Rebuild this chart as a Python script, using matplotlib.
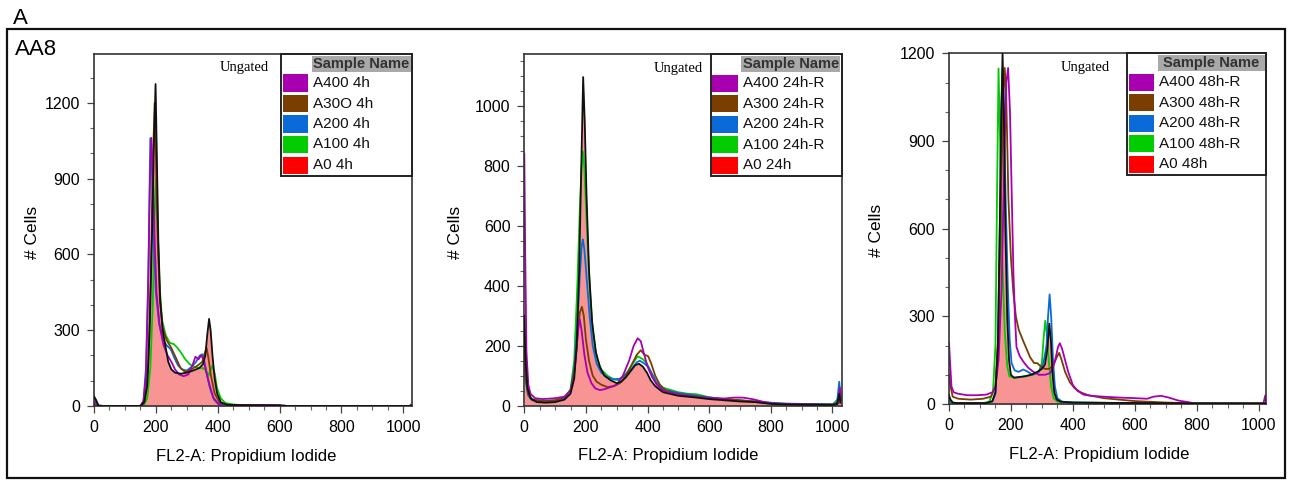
import matplotlib

matplotlib.use("Agg")
import matplotlib.pyplot as plt  # noqa: E402
from matplotlib.patches import Rectangle  # noqa: E402
from matplotlib.ticker import MultipleLocator  # noqa: E402

plt.rcParams["font.family"] = ["Liberation Sans", "DejaVu Sans"]

# ---- data: (channel, # cells) ----
a0_4h = [(0, 35), (6, 25), (14, 3), (30, 0), (150, 0), (162, 15), (172, 80), (180, 300), (188, 700),
         (194, 1050), (199, 1275), (203, 1000), (208, 650), (214, 420), (222, 300), (232, 230),
         (240, 175), (250, 145), (262, 132), (280, 128), (300, 132), (320, 140), (340, 150),
         (352, 165), (360, 200), (366, 280), (372, 345), (377, 300), (383, 200), (390, 110),
         (398, 50), (410, 15), (430, 5), (500, 3), (615, 2), (625, 0), (1024, 0)]
a400_4h = [(0, 20), (8, 10), (15, 0), (150, 0), (160, 20), (168, 120), (175, 450), (181, 900),
           (185, 1062), (190, 950), (195, 700), (202, 450), (212, 320), (225, 240), (238, 200),
           (250, 175), (262, 145), (275, 125), (290, 118), (305, 125), (318, 160), (328, 195),
           (338, 185), (346, 200), (354, 185), (362, 140), (372, 90), (385, 35), (400, 10),
           (430, 4), (600, 3), (610, 0), (1020, 0), (1024, 5)]
a300_4h = [(0, 10), (10, 0), (155, 0), (165, 20), (175, 150), (183, 500), (190, 950), (196, 1200),
           (200, 1000), (206, 650), (213, 420), (222, 310), (235, 260), (250, 230), (265, 190),
           (280, 150), (295, 135), (315, 145), (335, 160), (350, 175), (358, 210), (364, 230),
           (370, 190), (378, 120), (390, 50), (405, 15), (430, 4), (600, 2), (610, 0), (1024, 0)]
a200_4h = [(0, 40), (6, 25), (14, 0), (150, 0), (160, 20), (168, 150), (176, 550), (182, 1060),
           (187, 950), (193, 650), (200, 450), (210, 330), (222, 265), (235, 240), (248, 225),
           (260, 190), (272, 160), (285, 145), (300, 140), (315, 155), (330, 175), (342, 200),
           (350, 205), (356, 180), (364, 130), (375, 70), (388, 25), (405, 5), (600, 2), (610, 0),
           (1024, 0)]
a100_4h = [(0, 10), (10, 0), (160, 0), (172, 30), (182, 150), (190, 400), (196, 750), (201, 900),
           (206, 700), (212, 480), (220, 340), (232, 280), (245, 250), (258, 245), (270, 230),
           (282, 210), (295, 185), (310, 165), (325, 155), (340, 150), (352, 150), (362, 140),
           (370, 120), (378, 145), (383, 160), (390, 130), (398, 70), (410, 30), (425, 12),
           (450, 6), (470, 4), (600, 2), (610, 0), (1024, 0)]

a0_24h = [(0, 300), (4, 150), (10, 60), (20, 25), (40, 12), (70, 10), (100, 12), (130, 20), (150, 40),
          (162, 90), (170, 200), (178, 450), (185, 800), (191, 1096), (196, 950), (202, 700),
          (210, 450), (220, 280), (232, 180), (245, 130), (260, 100), (280, 85), (300, 75),
          (315, 80), (330, 95), (345, 115), (360, 135), (372, 140), (385, 130), (398, 110),
          (410, 85), (425, 65), (450, 45), (500, 33), (550, 28), (600, 22), (650, 18), (700, 14),
          (750, 12), (800, 6), (850, 4), (1000, 3), (1015, 5), (1022, 40), (1026, 10)]
a400_24h = [(0, 840), (3, 500), (7, 180), (13, 70), (20, 40), (35, 25), (60, 22), (100, 25),
            (130, 30), (150, 50), (160, 90), (168, 170), (175, 260), (180, 288), (186, 250),
            (195, 170), (205, 110), (218, 75), (230, 58), (245, 52), (260, 55), (280, 62),
            (300, 70), (320, 100), (340, 150), (355, 200), (368, 225), (378, 215), (388, 175),
            (400, 130), (415, 95), (430, 70), (450, 50), (500, 38), (550, 30), (600, 25),
            (650, 24), (680, 27), (710, 27), (740, 22), (780, 12), (820, 6), (900, 4), (1000, 3),
            (1018, 10), (1024, 60), (1028, 20)]
a300_24h = [(0, 200), (5, 90), (12, 40), (25, 20), (60, 15), (100, 18), (130, 28), (150, 50),
            (162, 110), (172, 220), (180, 310), (187, 330), (193, 300), (200, 220), (210, 150),
            (222, 100), (235, 80), (250, 70), (270, 62), (290, 65), (310, 75), (330, 100),
            (350, 140), (365, 170), (378, 185), (390, 170), (402, 165), (412, 140), (425, 100),
            (440, 70), (460, 50), (500, 38), (550, 32), (600, 25), (650, 22), (700, 18),
            (750, 14), (800, 8), (900, 4), (1000, 3), (1020, 8), (1024, 40)]
a200_24h = [(0, 150), (5, 80), (12, 35), (25, 18), (60, 14), (100, 16), (130, 25), (150, 50),
            (162, 120), (172, 270), (180, 430), (186, 530), (190, 555), (195, 520), (202, 430),
            (212, 300), (222, 200), (235, 140), (250, 110), (270, 95), (290, 88), (310, 90),
            (330, 105), (350, 125), (365, 145), (375, 150), (390, 140), (402, 130), (415, 105),
            (430, 75), (450, 55), (500, 42), (550, 35), (600, 28), (650, 22), (700, 18),
            (750, 14), (800, 10), (850, 7), (900, 6), (1000, 5), (1015, 10), (1022, 80),
            (1026, 30)]
a100_24h = [(0, 250), (5, 110), (12, 45), (25, 22), (60, 16), (100, 18), (130, 25), (150, 55),
            (162, 150), (172, 400), (180, 650), (186, 800), (190, 848), (195, 790), (202, 620),
            (212, 400), (222, 250), (235, 160), (250, 120), (270, 100), (290, 88), (305, 85),
            (320, 95), (340, 120), (358, 150), (368, 165), (376, 160), (385, 155), (398, 140),
            (412, 110), (428, 80), (450, 60), (500, 45), (530, 40), (560, 38), (600, 28),
            (650, 20), (700, 16), (750, 12), (800, 7), (900, 5), (1000, 3), (1024, 30)]

a0_48h = [(0, 30), (5, 15), (12, 5), (30, 3), (120, 3), (140, 10), (150, 40), (158, 200), (164, 600),
          (169, 1000), (173, 1200), (177, 1000), (182, 600), (188, 300), (194, 150), (200, 100),
          (210, 90), (225, 92), (245, 95), (265, 100), (285, 110), (300, 120), (310, 135),
          (318, 190), (324, 275), (329, 220), (334, 110), (340, 40), (348, 15), (360, 8),
          (400, 5), (500, 4), (800, 2), (1024, 2)]
a400_48h = [(0, 210), (3, 150), (8, 60), (15, 40), (30, 35), (60, 30), (90, 30), (120, 32), (140, 40),
            (150, 60), (160, 150), (170, 400), (178, 800), (185, 1100), (191, 1150), (197, 1000),
            (203, 700), (208, 450), (213, 300), (218, 195), (228, 165), (240, 145), (255, 125),
            (270, 112), (290, 100), (310, 100), (325, 105), (335, 120), (345, 160), (352, 195),
            (358, 208), (365, 190), (375, 150), (385, 110), (400, 65), (415, 45), (435, 32),
            (460, 28), (500, 25), (550, 22), (600, 20), (640, 18), (660, 25), (685, 28),
            (710, 22), (740, 12), (780, 5), (800, 0), (1015, 0), (1022, 30), (1024, 5)]
a300_48h = [(0, 100), (5, 60), (12, 25), (30, 18), (70, 15), (110, 18), (135, 25), (150, 60),
            (160, 250), (168, 700), (175, 1050), (180, 1150), (185, 1050), (192, 700), (200, 500),
            (208, 380), (216, 300), (225, 255), (238, 220), (250, 190), (262, 160), (275, 140),
            (285, 140), (295, 130), (310, 120), (325, 120), (338, 135), (348, 160), (356, 175),
            (364, 150), (375, 110), (390, 75), (405, 55), (425, 40), (450, 30), (500, 20),
            (550, 15), (600, 10), (700, 5), (800, 2), (1024, 2)]
a200_48h = [(0, 20), (6, 8), (15, 3), (120, 3), (140, 8), (150, 35), (158, 200), (164, 600),
            (169, 1000), (173, 1148), (178, 1000), (183, 700), (190, 400), (196, 220), (202, 140),
            (212, 115), (225, 110), (240, 118), (255, 110), (270, 100), (290, 110), (305, 140),
            (315, 200), (320, 300), (325, 375), (330, 300), (336, 150), (342, 60), (350, 20),
            (365, 8), (400, 5), (600, 3), (1024, 2)]
a100_48h = [(0, 10), (8, 3), (110, 3), (130, 8), (142, 40), (150, 200), (155, 700), (160, 1148),
            (165, 900), (172, 500), (180, 250), (188, 130), (195, 95), (210, 90), (230, 92),
            (250, 95), (270, 100), (290, 110), (300, 140), (306, 230), (311, 285), (316, 240),
            (322, 150), (330, 60), (338, 20), (350, 8), (400, 5), (600, 3), (1024, 2)]

names_4h = ["A400 4h", "A30O 4h", "A200 4h", "A100 4h", "A0 4h"]
names_24h = ["A400 24h-R", "A300 24h-R", "A200 24h-R", "A100 24h-R", "A0 24h"]
names_48h = ["A400 48h-R", "A300 48h-R", "A200 48h-R", "A100 48h-R", "A0 48h"]

x_ticks = [0, 200, 400, 600, 800, 1000]
y_ticks_4h = [0, 300, 600, 900, 1200]
y_ticks_24h = [0, 200, 400, 600, 800, 1000]
y_ticks_48h = [0, 300, 600, 900, 1200]

COLORS = ["#a800b0", "#7a3e00", "#0a6ad8", "#00cc00", "#ff0000"]
FILL = "#f89494"

W, H = 1291, 480
fig = plt.figure(figsize=(W / 100, H / 100), dpi=100)

# outer panel frame + labels
fig.add_artist(Rectangle((7 / W, 1 - 478 / H), 1278 / W, 449 / H, transform=fig.transFigure,
                         fill=False, edgecolor="#111111", linewidth=1.6))
fig.text(13 / W, 1 - 24 / H, "A", fontsize=16, va="baseline", ha="left")
fig.text(15 / W, 1 - 55 / H, "AA8", fontsize=16, va="baseline", ha="left")


def split(points):
    return [p[0] for p in points], [p[1] for p in points]


def draw_legend(ax, names, box_w):
    axw, axh = ax.bbox.width, ax.bbox.height
    left = 1 - box_w / axw
    ax.add_patch(Rectangle((left, 1 - 122 / axh), box_w / axw, 122 / axh, transform=ax.transAxes,
                           facecolor="white", edgecolor="#222222", linewidth=1.4, zorder=6,
                           clip_on=False))
    hx = left + 30.5 / axw
    ax.add_patch(Rectangle((hx, 1 - 17.5 / axh), (box_w - 32) / axw, 16 / axh,
                           transform=ax.transAxes, facecolor="#a9a9a9", edgecolor="none",
                           zorder=7))
    ax.text(hx + (box_w - 32) / axw / 2, 1 - 9.8 / axh, "Sample Name", transform=ax.transAxes,
            ha="center", va="center", fontsize=10.5, fontweight="bold", color="#333333",
            zorder=8)
    for i, (name, col) in enumerate(zip(names, COLORS)):
        top = 1 - (20.5 + 20.5 * i) / axh
        ax.add_patch(Rectangle((left + 1.7 / axw, top - 17 / axh), 25.6 / axw, 17 / axh,
                               transform=ax.transAxes, facecolor=col, edgecolor="none",
                               zorder=7))
        ax.text(left + 32 / axw, top - 8.5 / axh, name, transform=ax.transAxes, ha="left",
                va="center", fontsize=11, color="#111111", zorder=8)


def draw_panel(rect, curves, a0, names, xmax, ymax, yticks, ymajor, yminor,
               box_w, ungated_x, xlabel_x, ylabel_x):
    ax = fig.add_axes(rect)
    xs, ys = split(a0)
    ax.fill_between(xs, ys, 0, color=FILL, linewidth=0, zorder=1)
    for pts, col in zip(curves, COLORS[:4][::-1]):
        cx, cy = split(pts)
        ax.plot(cx, cy, color=col, linewidth=1.3, zorder=2)
    ax.plot(xs, ys, color="#111111", linewidth=1.3, zorder=3)

    ax.set_xlim(0, xmax)
    ax.set_ylim(0, ymax)
    ax.set_xticks(x_ticks)
    ax.set_yticks(yticks)
    ax.xaxis.set_minor_locator(MultipleLocator(50))
    ax.yaxis.set_minor_locator(MultipleLocator(yminor))
    ax.tick_params(which="major", direction="out", length=5, width=0.9, color="#444444",
                   labelsize=11.5, pad=5)
    ax.tick_params(which="minor", direction="out", length=3, width=0.8, color="#666666")
    for sp in ax.spines.values():
        sp.set_color("#333333")
        sp.set_linewidth(1.2)

    axh = ax.bbox.height
    draw_legend(ax, names, box_w)
    ax.text(ungated_x, 1 - 14 / axh, "Ungated", transform=ax.transAxes, ha="center",
            va="center", fontsize=10.5, family=["Liberation Serif", "DejaVu Serif"])
    ax.text(xlabel_x, -50 / axh, "FL2-A: Propidium Iodide", transform=ax.transAxes,
            ha="center", va="center", fontsize=12)
    ax.text(ylabel_x, 0.494, "# Cells", transform=ax.transAxes, ha="center", va="center",
            rotation=90, fontsize=12.5)
    return ax


draw_panel([94 / W, 1 - 406 / H, 318 / W, 352 / H],
           [a100_4h, a200_4h, a300_4h, a400_4h], a0_4h, names_4h,
           1028, 1394, y_ticks_4h, 300, 100, 131, (244 - 94) / 318, 0.478, -0.192)
draw_panel([524.3 / W, 1 - 405.7 / H, 317.4 / W, 351.4 / H],
           [a100_24h, a200_24h, a300_24h, a400_24h], a0_24h, names_24h,
           1030, 1172, y_ticks_24h, 200, 50, 131, (678 - 524.3) / 317.4, 0.453, -0.218)
draw_panel([949 / W, 1 - 404 / H, 317 / W, 350.7 / H],
           [a100_48h, a200_48h, a300_48h, a400_48h], a0_48h, names_48h,
           1024, 1200, y_ticks_48h, 300, 100, 139, (1085 - 949) / 317, 0.4726, -0.228)

fig.savefig("out.png", dpi=100)
